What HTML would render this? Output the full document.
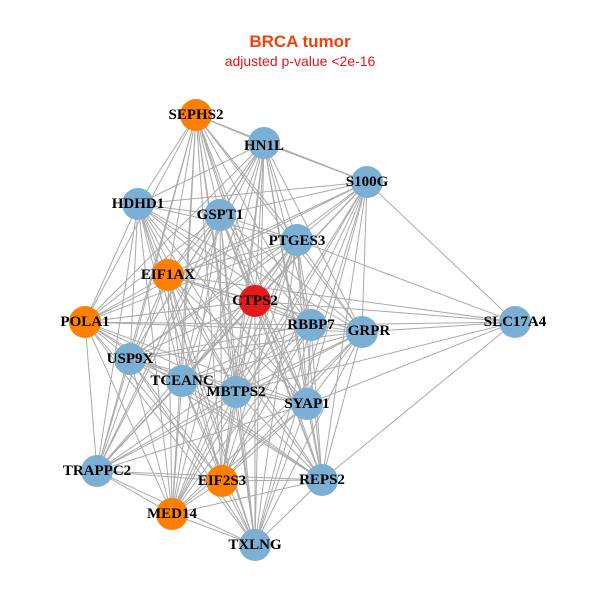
<!DOCTYPE html>
<html><head><meta charset="utf-8"><style>
html,body{margin:0;padding:0;background:#fff;}
svg{display:block}
.l{font-family:"Liberation Serif",serif;font-weight:bold;font-size:15px;fill:#000;text-anchor:middle;dominant-baseline:central}
</style></head><body>
<svg id="s" width="600" height="600" viewBox="0 0 600 600">
<text x="300" y="47" text-anchor="middle" font-family="Liberation Sans,sans-serif" font-weight="bold" font-size="17" fill="#f0400c">BRCA tumor</text>
<text x="300" y="66" text-anchor="middle" font-family="Liberation Sans,sans-serif" font-size="14" fill="#e8131a">adjusted p-value &lt;2e-16</text>
<g id="e" stroke="#aaaaaa" stroke-width="1"></g>
<g id="n"></g>
<g>
<text class="l" x="196" y="115">SEPHS2</text>
<text class="l" x="264" y="146">HN1L</text>
<text class="l" x="367" y="182">S100G</text>
<text class="l" x="138" y="204">HDHD1</text>
<text class="l" x="220" y="215">GSPT1</text>
<text class="l" x="297" y="241">PTGES3</text>
<text class="l" x="168" y="275">EIF1AX</text>
<text class="l" x="255" y="301">CTPS2</text>
<text class="l" x="85" y="322">POLA1</text>
<text class="l" x="311" y="325">RBBP7</text>
<text class="l" x="369" y="331">GRPR</text>
<text class="l" x="515" y="322">SLC17A4</text>
<text class="l" x="130" y="359">USP9X</text>
<text class="l" x="182" y="381">TCEANC</text>
<text class="l" x="236" y="392">MBTPS2</text>
<text class="l" x="307" y="404">SYAP1</text>
<text class="l" x="97" y="471">TRAPPC2</text>
<text class="l" x="222" y="481">EIF2S3</text>
<text class="l" x="322" y="480">REPS2</text>
<text class="l" x="172" y="514">MED14</text>
<text class="l" x="255" y="545">TXLNG</text>
</g>
</svg>
<script>
var N=[[196,115,'o'],[264,143,'b'],[367,182,'b'],[138,204,'b'],[220,215,'b'],[297,240,'b'],[168,275,'o'],[255,301,'r'],[85,322,'o'],[311,325,'b'],[362,332,'b'],[515,322,'b'],[130,359,'b'],[182,381,'b'],[236,392,'b'],[307,404,'b'],[97,471,'b'],[222,481,'o'],[322,480,'b'],[172,514,'o'],[255,545,'b']];
var C={o:'#ff7f00',b:'#7bafd4',r:'#e41a1c'};
var ns='http://www.w3.org/2000/svg',E=document.getElementById('e'),G=document.getElementById('n');
function ln(a,b){var l=document.createElementNS(ns,'line');l.setAttribute('x1',N[a][0]);l.setAttribute('y1',N[a][1]);l.setAttribute('x2',N[b][0]);l.setAttribute('y2',N[b][1]);E.appendChild(l);}
for(var i=0;i<N.length;i++)for(var j=i+1;j<N.length;j++){if(i==11||j==11)continue;ln(i,j);}
[2,5,7,9,10,15,18,6,14].forEach(function(k){ln(11,k);});
N.forEach(function(p){var c=document.createElementNS(ns,'circle');c.setAttribute('cx',p[0]);c.setAttribute('cy',p[1]);c.setAttribute('r',16);c.setAttribute('fill',C[p[2]]);G.appendChild(c);});
</script>
</body></html>
